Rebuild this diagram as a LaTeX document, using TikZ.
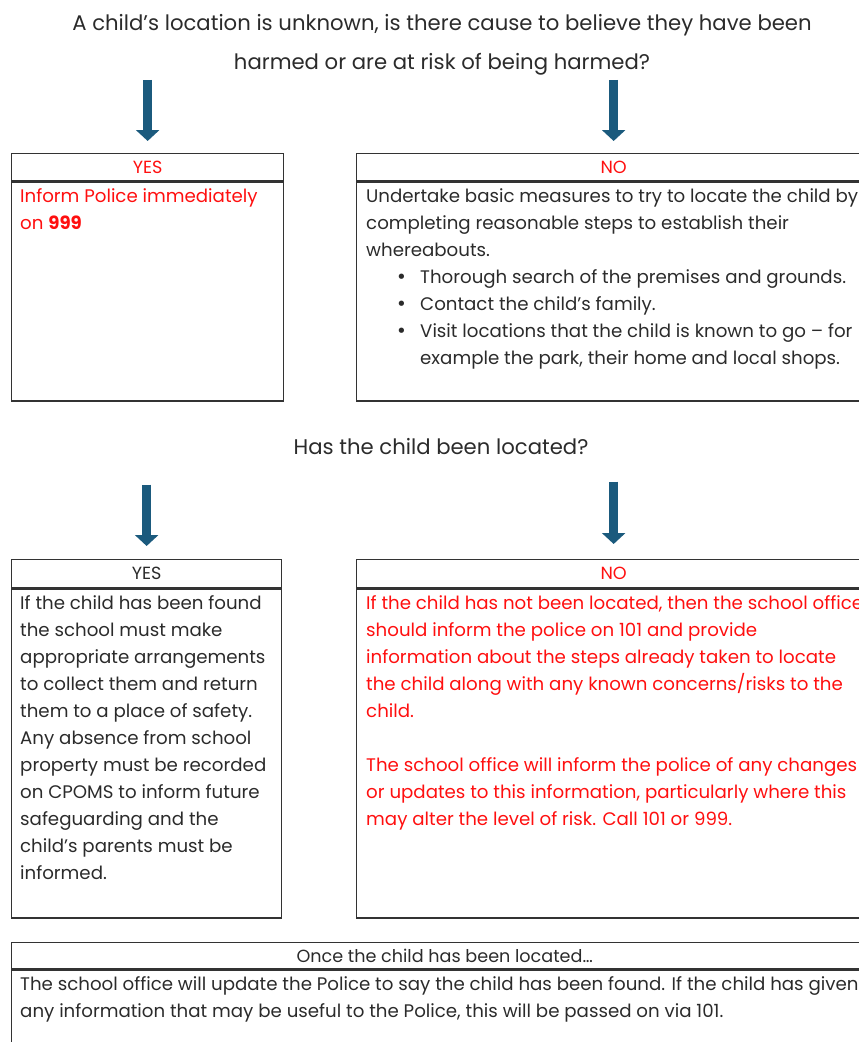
\documentclass[tikz,border=0pt]{standalone}
\usepackage{fontspec}
\setmainfont{Poppins}
\newfontfamily\dotfont{DejaVu Sans}
\usetikzlibrary{arrows.meta,positioning}
\definecolor{ink}{HTML}{2B2B2B}
\definecolor{alert}{HTML}{FF0F0F}
\definecolor{arrowblue}{HTML}{1B5A7D}
\definecolor{rule}{HTML}{333333}
\newcommand{\bul}{\hspace*{30pt}\makebox[24pt][l]{\dotfont •}}

\begin{document}
\begin{tikzpicture}[x=1pt,y=-1pt,
  head/.style={draw=rule,line width=1.3pt,anchor=north west,inner sep=0pt,minimum height=27pt,font=\fontsize{17.6}{20}\selectfont,text=ink},
  frame/.style={draw=rule,line width=1.3pt,anchor=north west,inner sep=0pt},
  body/.style={anchor=north west,align=left,inner sep=0pt,font=\fontsize{18.2}{27}\selectfont,text=ink},
  question/.style={align=center,font=\fontsize{21.2}{39}\selectfont,text=ink},
  bigarrow/.style={draw=arrowblue,line width=9pt,-{Triangle[length=11pt,width=23pt]}}]
\useasboundingbox (0,0) rectangle (859,1042);
\clip (0,0) rectangle (859,1042);

% first question
\node[question] (q1) at (442,45) {A child's location is unknown, is there cause to believe they have been\\ harmed or are at risk of being harmed?};

% yes / no boxes
\node[head,minimum width=272pt,text=alert] (yes1) at (11,153) {YES};
\node[frame,minimum width=272pt,minimum height=219pt] (yes1box) at (yes1.south west) {};
\node[body,text=alert,below right=7pt and 9pt of yes1box.north west] (yes1txt) {Inform Police immediately\\ on \textbf{999}};

\node[head,minimum width=514pt,text=alert] (no1) at (356,153) {NO};
\node[frame,minimum width=514pt,minimum height=219pt] (no1box) at (no1.south west) {};
\node[body,below right=7pt and 10pt of no1box.north west] (no1txt) {Undertake basic measures to try to locate the child by\\
completing reasonable steps to establish their\\
whereabouts.\\
\bul Thorough search of the premises and grounds.\\
\bul Contact the child's family.\\
\bul Visit locations that the child is known to go -- for\\
\hspace*{54pt}example the park, their home and local shops.};

\draw[bigarrow,shorten <=1pt,shorten >=12pt] (q1.south -| yes1.north) -- (yes1.north);
\draw[bigarrow,shorten <=1pt,shorten >=12pt] (q1.south -| no1.north) -- (no1.north);

% second question
\node[question] (q2) at (441,447) {Has the child been located?};

\node[head,minimum width=270pt,minimum height=28pt] (yes2) at (11,559) {YES};
\node[frame,minimum width=270pt,minimum height=329pt] (yes2box) at (yes2.south west) {};
\node[body,below right=7pt and 9pt of yes2box.north west] (yes2txt) {If the child has been found\\
the school must make\\
appropriate arrangements\\
to collect them and return\\
them to a place of safety.\\
Any absence from school\\
property must be recorded\\
on CPOMS to inform future\\
safeguarding and the\\
child's parents must be\\
informed.};

\node[head,minimum width=514pt,minimum height=28pt,text=alert] (no2) at (356,559) {NO};
\node[frame,minimum width=514pt,minimum height=329pt] (no2box) at (no2.south west) {};
\node[body,text=alert,below right=7pt and 10pt of no2box.north west] (no2txt) {If the child has not been located, then the school office\\
should inform the police on 101 and provide\\
information about the steps already taken to locate\\
the child along with any known concerns/risks to the\\
child.\\[27pt]
The school office will inform the police of any changes\\
or updates to this information, particularly where this\\
may alter the level of risk. Call 101 or 999.};

\draw[bigarrow,shorten <=26pt,shorten >=13pt] (q2.south -| yes2.north) -- (yes2.north);
\draw[bigarrow,shorten <=23pt,shorten >=15pt] (q2.south -| no2.north) -- (no2.north);

% once located
\node[head,minimum width=866pt,minimum height=26pt] (found) at (11,942) {Once the child has been located\dots};
\node[frame,minimum width=866pt,minimum height=200pt] (foundbox) at (found.south west) {};
\node[body,below right=7pt and 9pt of foundbox.north west] (foundtxt) {The school office will update the Police to say the child has been found. If the child has given\\
any information that may be useful to the Police, this will be passed on via 101.};
\end{tikzpicture}
\end{document}
